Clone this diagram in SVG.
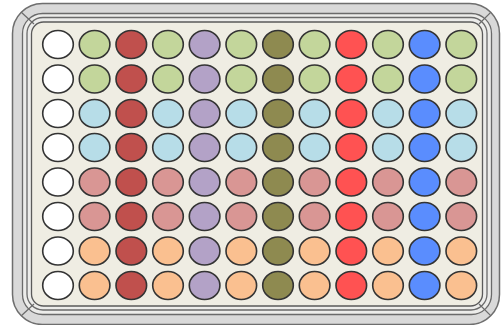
<svg xmlns="http://www.w3.org/2000/svg" width="502" height="325" viewBox="0 0 502 325">
<style>
.plate{fill:#d9d9d9;stroke:#6e6e6e;stroke-width:1.5}
.rim{fill:#ececea;stroke:#6a6a6a;stroke-width:1.3}
.floor{fill:#efede3;stroke:#5a5a5a;stroke-width:1.3}
.bev{stroke:#6a6a6a;stroke-width:1.2;fill:none}
ellipse{stroke:#333333;stroke-width:1.6}
.wh{fill:#ffffff}.gr{fill:#c3d69b}.dr{fill:#c0504d}.lv{fill:#b3a2c7}.ol{fill:#8e8a50}
.br{fill:#ff5252}.bl{fill:#5a8dfe}.lb{fill:#b7dde8}.pk{fill:#d99694}.or{fill:#fac090}
</style>
<g id="plate">
<rect class="plate" x="12.5" y="3.5" width="487" height="321" rx="30"/>
<rect class="rim" x="22.5" y="13.5" width="469" height="301" rx="20"/>
<rect class="rim" x="27" y="17.5" width="460" height="292.5" rx="16"/>
<rect class="floor" x="31.5" y="22" width="451" height="284" rx="12"/>
<line class="bev" x1="21.3" y1="12.3" x2="34" y2="24"/>
<line class="bev" x1="490.7" y1="12.3" x2="479" y2="24"/>
<line class="bev" x1="21.3" y1="315.7" x2="34" y2="304"/>
<line class="bev" x1="490.7" y1="315.7" x2="479" y2="304"/>
</g>
<g id="wells">
<g id="A1"><ellipse class="wh" cx="58" cy="44.5" rx="15.3" ry="14"/></g>
<g id="A2"><ellipse class="gr" cx="94.6" cy="44.5" rx="15.3" ry="14"/></g>
<g id="A3"><ellipse class="dr" cx="131.3" cy="44.5" rx="15.3" ry="14"/></g>
<g id="A4"><ellipse class="gr" cx="168" cy="44.5" rx="15.3" ry="14"/></g>
<g id="A5"><ellipse class="lv" cx="204.6" cy="44.5" rx="15.3" ry="14"/></g>
<g id="A6"><ellipse class="gr" cx="241.3" cy="44.5" rx="15.3" ry="14"/></g>
<g id="A7"><ellipse class="ol" cx="278" cy="44.5" rx="15.3" ry="14"/></g>
<g id="A8"><ellipse class="gr" cx="314.6" cy="44.5" rx="15.3" ry="14"/></g>
<g id="A9"><ellipse class="br" cx="351.3" cy="44.5" rx="15.3" ry="14"/></g>
<g id="A10"><ellipse class="gr" cx="388" cy="44.5" rx="15.3" ry="14"/></g>
<g id="A11"><ellipse class="bl" cx="424.6" cy="44.5" rx="15.3" ry="14"/></g>
<g id="A12"><ellipse class="gr" cx="461.3" cy="44.5" rx="15.3" ry="14"/></g>
<g id="B1"><ellipse class="wh" cx="58" cy="79" rx="15.3" ry="14"/></g>
<g id="B2"><ellipse class="gr" cx="94.6" cy="79" rx="15.3" ry="14"/></g>
<g id="B3"><ellipse class="dr" cx="131.3" cy="79" rx="15.3" ry="14"/></g>
<g id="B4"><ellipse class="gr" cx="168" cy="79" rx="15.3" ry="14"/></g>
<g id="B5"><ellipse class="lv" cx="204.6" cy="79" rx="15.3" ry="14"/></g>
<g id="B6"><ellipse class="gr" cx="241.3" cy="79" rx="15.3" ry="14"/></g>
<g id="B7"><ellipse class="ol" cx="278" cy="79" rx="15.3" ry="14"/></g>
<g id="B8"><ellipse class="gr" cx="314.6" cy="79" rx="15.3" ry="14"/></g>
<g id="B9"><ellipse class="br" cx="351.3" cy="79" rx="15.3" ry="14"/></g>
<g id="B10"><ellipse class="gr" cx="388" cy="79" rx="15.3" ry="14"/></g>
<g id="B11"><ellipse class="bl" cx="424.6" cy="79" rx="15.3" ry="14"/></g>
<g id="B12"><ellipse class="gr" cx="461.3" cy="79" rx="15.3" ry="14"/></g>
<g id="C1"><ellipse class="wh" cx="58" cy="113.5" rx="15.3" ry="14"/></g>
<g id="C2"><ellipse class="lb" cx="94.6" cy="113.5" rx="15.3" ry="14"/></g>
<g id="C3"><ellipse class="dr" cx="131.3" cy="113.5" rx="15.3" ry="14"/></g>
<g id="C4"><ellipse class="lb" cx="168" cy="113.5" rx="15.3" ry="14"/></g>
<g id="C5"><ellipse class="lv" cx="204.6" cy="113.5" rx="15.3" ry="14"/></g>
<g id="C6"><ellipse class="lb" cx="241.3" cy="113.5" rx="15.3" ry="14"/></g>
<g id="C7"><ellipse class="ol" cx="278" cy="113.5" rx="15.3" ry="14"/></g>
<g id="C8"><ellipse class="lb" cx="314.6" cy="113.5" rx="15.3" ry="14"/></g>
<g id="C9"><ellipse class="br" cx="351.3" cy="113.5" rx="15.3" ry="14"/></g>
<g id="C10"><ellipse class="lb" cx="388" cy="113.5" rx="15.3" ry="14"/></g>
<g id="C11"><ellipse class="bl" cx="424.6" cy="113.5" rx="15.3" ry="14"/></g>
<g id="C12"><ellipse class="lb" cx="461.3" cy="113.5" rx="15.3" ry="14"/></g>
<g id="D1"><ellipse class="wh" cx="58" cy="147.5" rx="15.3" ry="14"/></g>
<g id="D2"><ellipse class="lb" cx="94.6" cy="147.5" rx="15.3" ry="14"/></g>
<g id="D3"><ellipse class="dr" cx="131.3" cy="147.5" rx="15.3" ry="14"/></g>
<g id="D4"><ellipse class="lb" cx="168" cy="147.5" rx="15.3" ry="14"/></g>
<g id="D5"><ellipse class="lv" cx="204.6" cy="147.5" rx="15.3" ry="14"/></g>
<g id="D6"><ellipse class="lb" cx="241.3" cy="147.5" rx="15.3" ry="14"/></g>
<g id="D7"><ellipse class="ol" cx="278" cy="147.5" rx="15.3" ry="14"/></g>
<g id="D8"><ellipse class="lb" cx="314.6" cy="147.5" rx="15.3" ry="14"/></g>
<g id="D9"><ellipse class="br" cx="351.3" cy="147.5" rx="15.3" ry="14"/></g>
<g id="D10"><ellipse class="lb" cx="388" cy="147.5" rx="15.3" ry="14"/></g>
<g id="D11"><ellipse class="bl" cx="424.6" cy="147.5" rx="15.3" ry="14"/></g>
<g id="D12"><ellipse class="lb" cx="461.3" cy="147.5" rx="15.3" ry="14"/></g>
<g id="E1"><ellipse class="wh" cx="58" cy="182" rx="15.3" ry="14"/></g>
<g id="E2"><ellipse class="pk" cx="94.6" cy="182" rx="15.3" ry="14"/></g>
<g id="E3"><ellipse class="dr" cx="131.3" cy="182" rx="15.3" ry="14"/></g>
<g id="E4"><ellipse class="pk" cx="168" cy="182" rx="15.3" ry="14"/></g>
<g id="E5"><ellipse class="lv" cx="204.6" cy="182" rx="15.3" ry="14"/></g>
<g id="E6"><ellipse class="pk" cx="241.3" cy="182" rx="15.3" ry="14"/></g>
<g id="E7"><ellipse class="ol" cx="278" cy="182" rx="15.3" ry="14"/></g>
<g id="E8"><ellipse class="pk" cx="314.6" cy="182" rx="15.3" ry="14"/></g>
<g id="E9"><ellipse class="br" cx="351.3" cy="182" rx="15.3" ry="14"/></g>
<g id="E10"><ellipse class="pk" cx="388" cy="182" rx="15.3" ry="14"/></g>
<g id="E11"><ellipse class="bl" cx="424.6" cy="182" rx="15.3" ry="14"/></g>
<g id="E12"><ellipse class="pk" cx="461.3" cy="182" rx="15.3" ry="14"/></g>
<g id="F1"><ellipse class="wh" cx="58" cy="216.5" rx="15.3" ry="14"/></g>
<g id="F2"><ellipse class="pk" cx="94.6" cy="216.5" rx="15.3" ry="14"/></g>
<g id="F3"><ellipse class="dr" cx="131.3" cy="216.5" rx="15.3" ry="14"/></g>
<g id="F4"><ellipse class="pk" cx="168" cy="216.5" rx="15.3" ry="14"/></g>
<g id="F5"><ellipse class="lv" cx="204.6" cy="216.5" rx="15.3" ry="14"/></g>
<g id="F6"><ellipse class="pk" cx="241.3" cy="216.5" rx="15.3" ry="14"/></g>
<g id="F7"><ellipse class="ol" cx="278" cy="216.5" rx="15.3" ry="14"/></g>
<g id="F8"><ellipse class="pk" cx="314.6" cy="216.5" rx="15.3" ry="14"/></g>
<g id="F9"><ellipse class="br" cx="351.3" cy="216.5" rx="15.3" ry="14"/></g>
<g id="F10"><ellipse class="pk" cx="388" cy="216.5" rx="15.3" ry="14"/></g>
<g id="F11"><ellipse class="bl" cx="424.6" cy="216.5" rx="15.3" ry="14"/></g>
<g id="F12"><ellipse class="pk" cx="461.3" cy="216.5" rx="15.3" ry="14"/></g>
<g id="G1"><ellipse class="wh" cx="58" cy="251" rx="15.3" ry="14"/></g>
<g id="G2"><ellipse class="or" cx="94.6" cy="251" rx="15.3" ry="14"/></g>
<g id="G3"><ellipse class="dr" cx="131.3" cy="251" rx="15.3" ry="14"/></g>
<g id="G4"><ellipse class="or" cx="168" cy="251" rx="15.3" ry="14"/></g>
<g id="G5"><ellipse class="lv" cx="204.6" cy="251" rx="15.3" ry="14"/></g>
<g id="G6"><ellipse class="or" cx="241.3" cy="251" rx="15.3" ry="14"/></g>
<g id="G7"><ellipse class="ol" cx="278" cy="251" rx="15.3" ry="14"/></g>
<g id="G8"><ellipse class="or" cx="314.6" cy="251" rx="15.3" ry="14"/></g>
<g id="G9"><ellipse class="br" cx="351.3" cy="251" rx="15.3" ry="14"/></g>
<g id="G10"><ellipse class="or" cx="388" cy="251" rx="15.3" ry="14"/></g>
<g id="G11"><ellipse class="bl" cx="424.6" cy="251" rx="15.3" ry="14"/></g>
<g id="G12"><ellipse class="or" cx="461.3" cy="251" rx="15.3" ry="14"/></g>
<g id="H1"><ellipse class="wh" cx="58" cy="285.5" rx="15.3" ry="14"/></g>
<g id="H2"><ellipse class="or" cx="94.6" cy="285.5" rx="15.3" ry="14"/></g>
<g id="H3"><ellipse class="dr" cx="131.3" cy="285.5" rx="15.3" ry="14"/></g>
<g id="H4"><ellipse class="or" cx="168" cy="285.5" rx="15.3" ry="14"/></g>
<g id="H5"><ellipse class="lv" cx="204.6" cy="285.5" rx="15.3" ry="14"/></g>
<g id="H6"><ellipse class="or" cx="241.3" cy="285.5" rx="15.3" ry="14"/></g>
<g id="H7"><ellipse class="ol" cx="278" cy="285.5" rx="15.3" ry="14"/></g>
<g id="H8"><ellipse class="or" cx="314.6" cy="285.5" rx="15.3" ry="14"/></g>
<g id="H9"><ellipse class="br" cx="351.3" cy="285.5" rx="15.3" ry="14"/></g>
<g id="H10"><ellipse class="or" cx="388" cy="285.5" rx="15.3" ry="14"/></g>
<g id="H11"><ellipse class="bl" cx="424.6" cy="285.5" rx="15.3" ry="14"/></g>
<g id="H12"><ellipse class="or" cx="461.3" cy="285.5" rx="15.3" ry="14"/></g>
</g>
</svg>
